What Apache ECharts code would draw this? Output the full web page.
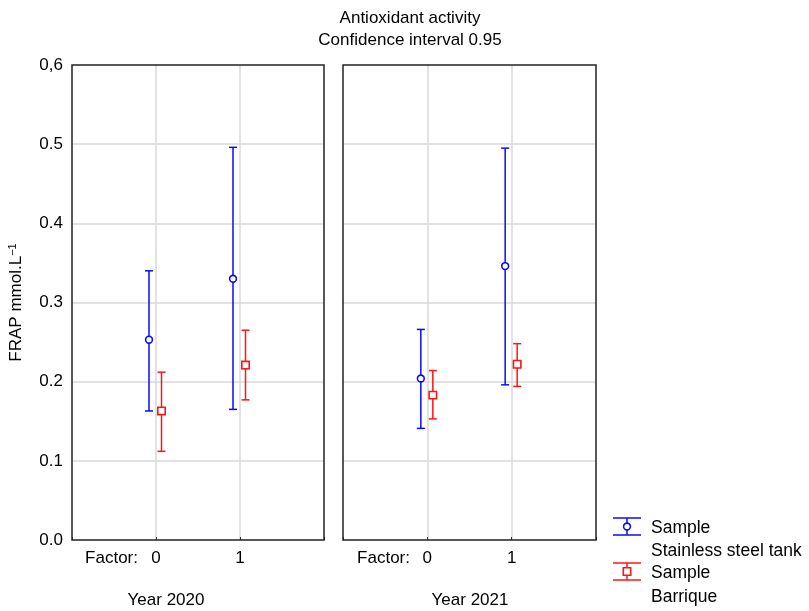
<!DOCTYPE html>
<html>
<head>
<meta charset="utf-8">
<script src="https://cdn.jsdelivr.net/npm/echarts@6/dist/echarts.min.js"></script>
<style>
  html, body { margin: 0; padding: 0; background: #fff; }
  #chart { width: 809px; height: 611px; }
</style>
</head>
<body>
<div id="chart"></div>
<script>
// data
const factors = [0, 1];
const years = ['Year 2020', 'Year 2021'];
const yTickLabels = ['0.0', '0.1', '0.2', '0.3', '0.4', '0.5', '0,6'];

const steelMean2020 = [0.253, 0.330];
const steelLow2020 = [0.163, 0.165];
const steelHigh2020 = [0.340, 0.496];
const barrMean2020 = [0.163, 0.221];
const barrLow2020 = [0.112, 0.177];
const barrHigh2020 = [0.212, 0.265];

const steelMean2021 = [0.204, 0.346];
const steelLow2021 = [0.141, 0.196];
const steelHigh2021 = [0.266, 0.495];
const barrMean2021 = [0.183, 0.222];
const barrLow2021 = [0.153, 0.194];
const barrHigh2021 = [0.214, 0.248];

const BLUE = '#0a0aff';
const RED = '#ff1414';
const FONT = 'Liberation Sans, Arial, sans-serif';
const FS = 17;

let chart = echarts.init(document.getElementById('chart'));

function rows(mean, low, high) {
  return factors.map((f, i) => [f, mean[i], low[i], high[i]]);
}

// error bar + marker, shifted a few px sideways from the factor position
function errorBar(color, shape, dx) {
  return function (params, api) {
    let x = api.value(0);
    let m = api.coord([x, api.value(1)]);
    let lo = api.coord([x, api.value(2)]);
    let hi = api.coord([x, api.value(3)]);
    let cx = m[0] + dx;
    let st = { stroke: color, lineWidth: 1.5, fill: null };
    let children = [
      { type: 'line', shape: { x1: cx, y1: hi[1], x2: cx, y2: lo[1] }, style: st },
      { type: 'line', shape: { x1: cx - 4, y1: hi[1], x2: cx + 4, y2: hi[1] }, style: st },
      { type: 'line', shape: { x1: cx - 4, y1: lo[1], x2: cx + 4, y2: lo[1] }, style: st }
    ];
    if (shape === 'circle') {
      children.push({ type: 'circle', shape: { cx: cx, cy: m[1], r: 3.4 },
        style: { stroke: color, lineWidth: 1.6, fill: '#fff' } });
    } else {
      children.push({ type: 'rect', shape: { x: cx - 3.7, y: m[1] - 3.7, width: 7.4, height: 7.4 },
        style: { stroke: color, lineWidth: 1.6, fill: '#fff' } });
    }
    return { type: 'group', children: children };
  };
}

function mkSeries(name, idx, data, color, shape, dx) {
  return {
    name: name,
    type: 'custom',
    xAxisIndex: idx,
    yAxisIndex: idx,
    data: data,
    clip: false,
    encode: { x: 0, y: [1, 2, 3] },
    renderItem: errorBar(color, shape, dx)
  };
}

const grids = [
  { left: 72, top: 65, width: 252, height: 475 },
  { left: 343, top: 65, width: 253, height: 475 }
];

function xAxis(idx) {
  return {
    type: 'value',
    gridIndex: idx,
    min: -1,
    max: 2,
    interval: 1,
    axisLine: { show: false },
    axisTick: { show: true, inside: true, length: 3, lineStyle: { color: '#333' } },
    splitLine: { show: true, showMinLine: false, showMaxLine: false, lineStyle: { color: '#d9d9d9', width: 1.5 } },
    axisLabel: {
      margin: 10,
      color: '#000',
      fontFamily: FONT,
      fontSize: FS,
      formatter: v => (factors.indexOf(v) >= 0 ? String(v) : '')
    }
  };
}

function yAxis(idx) {
  return {
    type: 'value',
    gridIndex: idx,
    min: 0,
    max: 0.6,
    interval: 0.1,
    name: idx === 0 ? 'FRAP mmol.L{sup|−1}' : '',
    nameLocation: 'middle',
    nameGap: 46,
    nameTextStyle: {
      color: '#000',
      fontFamily: FONT,
      fontSize: FS,
      rich: { sup: { fontSize: 11, verticalAlign: 'top', padding: [0, 0, 8, 0], fontFamily: FONT } }
    },
    axisLine: { show: false },
    axisTick: { show: false },
    splitLine: { show: true, showMinLine: false, showMaxLine: false, lineStyle: { color: '#d9d9d9', width: 1.5 } },
    axisLabel: {
      show: idx === 0,
      margin: 9,
      color: '#000',
      fontFamily: FONT,
      fontSize: FS,
      formatter: v => yTickLabels[Math.round(v * 10)]
    }
  };
}

function txt(x, y, s, align, size) {
  return {
    type: 'text', x: x, y: y,
    style: { text: s, fill: '#000', font: (size || FS) + 'px ' + FONT, textAlign: align || 'left', textVerticalAlign: 'middle' }
  };
}

function legendIcon(cy, color, shape) {
  let st = { stroke: color, lineWidth: 1.5 };
  let kids = [
    { type: 'line', shape: { x1: 613, y1: cy - 8.5, x2: 641, y2: cy - 8.5 }, style: st },
    { type: 'line', shape: { x1: 613, y1: cy + 8.5, x2: 641, y2: cy + 8.5 }, style: st },
    { type: 'line', shape: { x1: 627, y1: cy - 8.5, x2: 627, y2: cy + 8.5 }, style: st }
  ];
  if (shape === 'circle') {
    kids.push({ type: 'circle', shape: { cx: 627, cy: cy, r: 3.4 }, style: { stroke: color, lineWidth: 1.6, fill: '#fff' } });
  } else {
    kids.push({ type: 'rect', shape: { x: 623.3, y: cy - 3.7, width: 7.4, height: 7.4 }, style: { stroke: color, lineWidth: 1.6, fill: '#fff' } });
  }
  return { type: 'group', children: kids };
}

// panel frames drawn above the grid lines
function frame(g) {
  return {
    type: 'rect', z: 10, silent: true,
    shape: { x: g.left, y: g.top, width: g.width, height: g.height },
    style: { fill: null, stroke: '#222', lineWidth: 1.5 }
  };
}

let option = {
  animation: false,
  backgroundColor: '#fff',
  title: {
    text: 'Antioxidant activity\nConfidence interval 0.95',
    left: 405,
    top: 2,
    textAlign: 'center',
    textStyle: { color: '#000', fontFamily: FONT, fontSize: FS, fontWeight: 'normal', lineHeight: 22 }
  },
  grid: grids,
  xAxis: [xAxis(0), xAxis(1)],
  yAxis: [yAxis(0), yAxis(1)],
  series: [
    mkSeries('Sample Stainless steel tank 2020', 0, rows(steelMean2020, steelLow2020, steelHigh2020), BLUE, 'circle', -7),
    mkSeries('Sample Barrique 2020', 0, rows(barrMean2020, barrLow2020, barrHigh2020), RED, 'rect', 5.5),
    mkSeries('Sample Stainless steel tank 2021', 1, rows(steelMean2021, steelLow2021, steelHigh2021), BLUE, 'circle', -6.5),
    mkSeries('Sample Barrique 2021', 1, rows(barrMean2021, barrLow2021, barrHigh2021), RED, 'rect', 5.5)
  ],
  graphic: [
    frame(grids[0]),
    frame(grids[1]),
    txt(138, 558, 'Factor:', 'right'),
    txt(410, 558, 'Factor:', 'right'),
    txt(166, 600, years[0], 'center'),
    txt(470, 600, years[1], 'center'),
    legendIcon(526.5, BLUE, 'circle'),
    legendIcon(571.5, RED, 'rect'),
    txt(651, 528, 'Sample', 'left', 17.5),
    txt(651, 551, 'Stainless steel tank', 'left', 17.5),
    txt(651, 573, 'Sample', 'left', 17.5),
    txt(651, 597, 'Barrique', 'left', 17.5)
  ]
};

chart.setOption(option);
</script>
</body>
</html>
